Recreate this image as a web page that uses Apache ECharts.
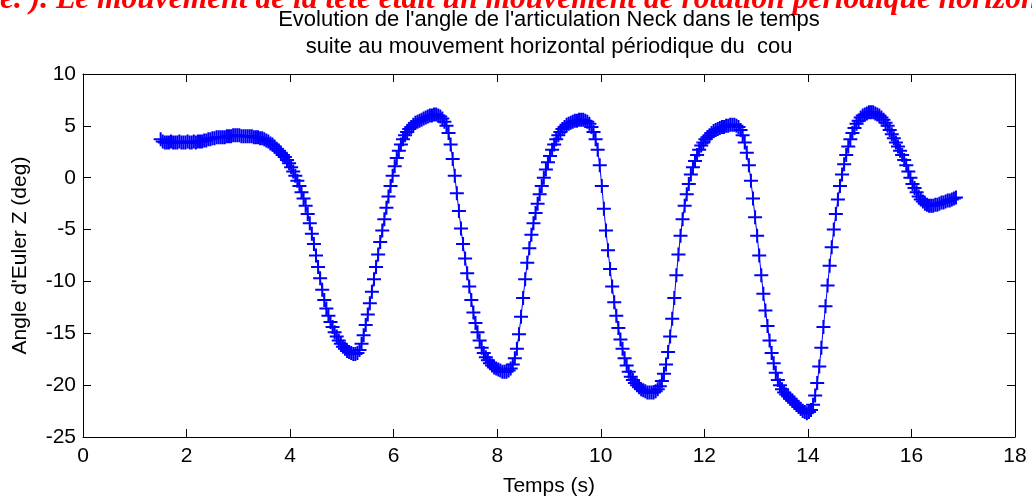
<!DOCTYPE html>
<html>
<head>
<meta charset="utf-8">
<script src="https://cdn.jsdelivr.net/npm/echarts@6/dist/echarts.min.js"></script>
<style>
html,body{margin:0;padding:0;background:#fff;}
#c{width:1032px;height:500px;}
</style>
</head>
<body>
<div id="c"></div>
<script>
const titleLines = ["Evolution de l'angle de l'articulation Neck dans le temps", "suite au mouvement horizontal périodique du  cou"];
const pageText = "e. ). Le mouvement de la tête était un mouvement de rotation périodique horizontal";
const xLabel = "Temps (s)";
const yLabel = "Angle d'Euler Z (deg)";
const xTicks = [0, 2, 4, 6, 8, 10, 12, 14, 16, 18];
const yTicks = [-25, -20, -15, -10, -5, 0, 5, 10];

const temps = [
1.50,1.54,1.58,1.62,1.66,1.70,1.74,1.78,1.82,1.86,
1.90,1.94,1.98,2.02,2.06,2.10,2.14,2.18,2.22,2.26,
2.30,2.34,2.38,2.42,2.46,2.50,2.54,2.58,2.62,2.66,
2.70,2.74,2.78,2.82,2.86,2.90,2.94,2.98,3.02,3.06,
3.10,3.14,3.18,3.22,3.26,3.30,3.34,3.38,3.42,3.46,
3.50,3.54,3.58,3.62,3.66,3.70,3.74,3.78,3.82,3.86,
3.90,3.94,3.98,4.02,4.06,4.10,4.14,4.18,4.22,4.26,
4.30,4.34,4.38,4.42,4.46,4.50,4.54,4.58,4.62,4.66,
4.70,4.74,4.78,4.82,4.86,4.90,4.94,4.98,5.02,5.06,
5.10,5.14,5.18,5.22,5.26,5.30,5.34,5.38,5.42,5.46,
5.50,5.54,5.58,5.62,5.66,5.70,5.74,5.78,5.82,5.86,
5.90,5.94,5.98,6.02,6.06,6.10,6.14,6.18,6.22,6.26,
6.30,6.34,6.38,6.42,6.46,6.50,6.54,6.58,6.62,6.66,
6.70,6.74,6.78,6.82,6.86,6.90,6.94,6.98,7.02,7.06,
7.10,7.14,7.18,7.22,7.26,7.30,7.34,7.38,7.42,7.46,
7.50,7.54,7.58,7.62,7.66,7.70,7.74,7.78,7.82,7.86,
7.90,7.94,7.98,8.02,8.06,8.10,8.14,8.18,8.22,8.26,
8.30,8.34,8.38,8.42,8.46,8.50,8.54,8.58,8.62,8.66,
8.70,8.74,8.78,8.82,8.86,8.90,8.94,8.98,9.02,9.06,
9.10,9.14,9.18,9.22,9.26,9.30,9.34,9.38,9.42,9.46,
9.50,9.54,9.58,9.62,9.66,9.70,9.74,9.78,9.82,9.86,
9.90,9.94,9.98,10.02,10.06,10.10,10.14,10.18,10.22,10.26,
10.30,10.34,10.38,10.42,10.46,10.50,10.54,10.58,10.62,10.66,
10.70,10.74,10.78,10.82,10.86,10.90,10.94,10.98,11.02,11.06,
11.10,11.14,11.18,11.22,11.26,11.30,11.34,11.38,11.42,11.46,
11.50,11.54,11.58,11.62,11.66,11.70,11.74,11.78,11.82,11.86,
11.90,11.94,11.98,12.02,12.06,12.10,12.14,12.18,12.22,12.26,
12.30,12.34,12.38,12.42,12.46,12.50,12.54,12.58,12.62,12.66,
12.70,12.74,12.78,12.82,12.86,12.90,12.94,12.98,13.02,13.06,
13.10,13.14,13.18,13.22,13.26,13.30,13.34,13.38,13.42,13.46,
13.50,13.54,13.58,13.62,13.66,13.70,13.74,13.78,13.82,13.86,
13.90,13.94,13.98,14.02,14.06,14.10,14.14,14.18,14.22,14.26,
14.30,14.34,14.38,14.42,14.46,14.50,14.54,14.58,14.62,14.66,
14.70,14.74,14.78,14.82,14.86,14.90,14.94,14.98,15.02,15.06,
15.10,15.14,15.18,15.22,15.26,15.30,15.34,15.38,15.42,15.46,
15.50,15.54,15.58,15.62,15.66,15.70,15.74,15.78,15.82,15.86,
15.90,15.94,15.98,16.02,16.06,16.10,16.14,16.18,16.22,16.26,
16.30,16.34,16.38,16.42,16.46,16.50,16.54,16.58,16.62,16.66,
16.70,16.74,16.78,16.82,16.86
];

const angleZ = [
3.7,3.5,3.4,3.4,3.4,3.5,3.4,3.4,3.4,3.5,
3.4,3.4,3.4,3.5,3.4,3.4,3.5,3.4,3.5,3.5,
3.5,3.6,3.6,3.7,3.7,3.8,3.8,3.9,3.9,3.9,
3.9,3.9,4.0,4.0,4.0,4.1,4.1,4.1,4.1,4.0,
4.0,4.0,4.0,4.0,4.0,3.9,3.9,3.9,3.8,3.8,
3.7,3.6,3.5,3.3,3.2,3.0,2.8,2.6,2.4,2.2,
2.0,1.7,1.4,1.0,0.6,0.2,-0.3,-0.8,-1.4,-2.0,
-2.7,-3.5,-4.4,-5.4,-6.4,-7.5,-8.6,-9.7,-10.8,-11.8,
-12.6,-13.3,-13.9,-14.4,-14.9,-15.3,-15.7,-16.0,-16.3,-16.5,
-16.7,-16.8,-16.9,-17.0,-17.0,-16.9,-16.6,-16.0,-15.2,-14.2,
-13.2,-12.1,-11.0,-9.8,-8.6,-7.4,-6.2,-5.1,-4.0,-2.9,
-1.8,-0.8,0.2,1.1,1.9,2.6,3.2,3.7,4.1,4.4,
4.7,4.9,5.1,5.3,5.4,5.5,5.6,5.7,5.8,5.9,
6.0,6.0,6.1,6.1,6.0,5.9,5.7,5.4,5.0,4.3,
3.2,1.8,0.2,-1.5,-3.2,-4.9,-6.4,-7.8,-9.2,-10.5,
-11.8,-13.0,-14.0,-14.9,-15.7,-16.4,-16.9,-17.3,-17.6,-17.9,
-18.1,-18.3,-18.4,-18.5,-18.6,-18.7,-18.7,-18.7,-18.6,-18.4,
-18.0,-17.4,-16.5,-15.1,-13.4,-11.6,-9.8,-8.2,-6.8,-5.5,
-4.4,-3.4,-2.5,-1.6,-0.8,0.0,0.8,1.5,2.1,2.7,
3.2,3.7,4.1,4.4,4.7,4.9,5.1,5.2,5.3,5.4,
5.5,5.5,5.6,5.6,5.6,5.5,5.4,5.2,4.9,4.4,
3.7,2.7,1.2,-0.8,-3.0,-5.1,-7.0,-8.8,-10.5,-12.0,
-13.3,-14.5,-15.6,-16.5,-17.4,-18.1,-18.7,-19.2,-19.5,-19.8,
-20.0,-20.2,-20.4,-20.5,-20.6,-20.7,-20.7,-20.7,-20.7,-20.6,
-20.4,-20.1,-19.6,-18.9,-18.0,-16.8,-15.3,-13.6,-11.6,-9.4,
-7.4,-5.6,-4.0,-2.7,-1.6,-0.6,0.3,1.0,1.6,2.2,
2.7,3.1,3.4,3.7,3.9,4.1,4.3,4.5,4.6,4.7,
4.8,4.9,4.9,5.0,5.0,5.1,5.1,5.1,5.0,4.9,
4.6,4.1,3.4,2.4,1.2,-0.3,-2.0,-3.8,-5.6,-7.5,
-9.4,-11.2,-12.8,-14.3,-15.7,-16.9,-17.9,-18.8,-19.5,-20.0,
-20.4,-20.7,-20.9,-21.1,-21.3,-21.5,-21.7,-21.9,-22.1,-22.3,
-22.5,-22.6,-22.7,-22.6,-22.4,-21.9,-21.0,-19.8,-18.2,-16.4,
-14.4,-12.4,-10.4,-8.5,-6.7,-5.0,-3.5,-2.1,-0.8,0.3,
1.3,2.2,3.0,3.7,4.3,4.8,5.2,5.5,5.8,6.0,
6.1,6.2,6.3,6.3,6.3,6.2,6.1,6.0,5.8,5.6,
5.3,5.0,4.6,4.2,3.8,3.4,3.0,2.6,2.2,1.7,
1.2,0.6,0.0,-0.6,-1.0,-1.4,-1.8,-2.1,-2.3,-2.5,
-2.6,-2.7,-2.7,-2.7,-2.6,-2.6,-2.5,-2.4,-2.4,-2.3,
-2.2,-2.2,-2.1,-2.0,-1.9
];

const seriesData = temps.map((t, i) => [t, angleZ[i]]);
const FONT = "'Liberation Sans', Arial, Helvetica, sans-serif";
const plusPath = 'path://M6,0H8V6H14V8H8V14H6V8H0V6H6Z';

const chart = echarts.init(document.getElementById('c'), null, {renderer: 'canvas'});

function axisBase(min, max, step, pos, showLabel) {
  return {
    type: 'value', min: min, max: max, interval: step, position: pos,
    axisLine: {show: true, onZero: false, lineStyle: {color: '#000', width: 1}},
    axisTick: {show: true, inside: true, length: 8, lineStyle: {color: '#000', width: 1}},
    axisLabel: {show: showLabel, color: '#000', fontSize: 21, fontFamily: FONT},
    splitLine: {show: false}
  };
}

const xMain = Object.assign(axisBase(xTicks[0], xTicks[xTicks.length-1], xTicks[1]-xTicks[0], 'bottom', true), {
  name: xLabel, nameLocation: 'middle', nameGap: 39,
  nameTextStyle: {color: '#000', fontSize: 21, fontFamily: FONT}
});
xMain.axisLabel.margin = 9;
const xTop = axisBase(xTicks[0], xTicks[xTicks.length-1], xTicks[1]-xTicks[0], 'top', false);

const yMain = Object.assign(axisBase(yTicks[0], yTicks[yTicks.length-1], yTicks[1]-yTicks[0], 'left', true), {
  name: yLabel, nameLocation: 'middle', nameGap: 52, nameRotate: 90,
  nameTextStyle: {color: '#000', fontSize: 21, fontFamily: FONT}
});
yMain.axisLabel.margin = 7;
const yRight = axisBase(yTicks[0], yTicks[yTicks.length-1], yTicks[1]-yTicks[0], 'right', false);

chart.setOption({
  animation: false,
  backgroundColor: '#ffffff',
  grid: {left: 83, right: 17, top: 74, bottom: 63, containLabel: false, outerBoundsMode: 'none'},
  xAxis: [xMain, xTop],
  yAxis: [yMain, yRight],
  graphic: [
    {type: 'text', left: 0, top: -16, style: {text: pageText, fill: '#ff0000', font: "bold italic 31.5px 'Liberation Serif', 'Times New Roman', serif"}},
    {type: 'text', x: 549, y: 20, style: {text: titleLines[0], fill: '#000', align: 'center', verticalAlign: 'middle', font: "22px " + FONT}},
    {type: 'text', x: 549, y: 47, style: {text: titleLines[1], fill: '#000', align: 'center', verticalAlign: 'middle', font: "22px " + FONT}}
  ],
  series: [{
    type: 'line',
    xAxisIndex: 0, yAxisIndex: 0,
    data: seriesData,
    showAllSymbol: true,
    symbol: plusPath,
    symbolSize: 14,
    itemStyle: {color: '#0000ff'},
    lineStyle: {color: '#0000ff', width: 1},
    emphasis: {disabled: true}
  }]
});
</script>
</body>
</html>
